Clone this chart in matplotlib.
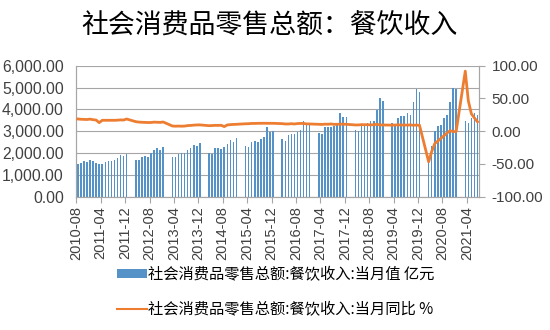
import numpy as np
import pandas as pd
import matplotlib
matplotlib.use('Agg')
import matplotlib.pyplot as plt
from matplotlib.patches import Patch
from matplotlib.lines import Line2D

plt.rcParams['font.family'] = ['Noto Sans CJK SC', 'DejaVu Sans']

# 月份: 2010-08 ~ 2021-07
months = pd.period_range('2010-08', '2021-07', freq='M').strftime('%Y-%m').tolist()

# 餐饮收入 当月值 (亿元), 1-2月无数据
v2010 = [1480, 1560, 1650, 1600, 1680]
v2011 = [1630, 1530, 1500, 1500, 1600, 1650, 1620, 1680, 1790, 1910, 1880, 1950]
v2012 = [None, None, 1690, 1660, 1840, 1850, 1840, 1990, 2140, 2230, 2120, 2260]
v2013 = [None, None, 1830, 1800, 1960, 1990, 1990, 2140, 2220, 2380, 2300, 2450]
v2014 = [None, None, 1990, 1960, 2210, 2220, 2180, 2290, 2410, 2600, 2520, 2680]
v2015 = [None, None, 2330, 2290, 2500, 2540, 2500, 2650, 2750, 3180, 2980, 2990]
v2016 = [None, None, 2630, 2570, 2830, 2870, 2860, 2980, 3050, 3470, 3330, 3330]
v2017 = [None, None, 2930, 2870, 3180, 3210, 3180, 3240, 3330, 3820, 3640, 3670]
v2018 = [None, None, 3060, 3010, 3320, 3320, 3360, 3480, 3450, 3970, 4510, 4400]
v2019 = [None, None, 3360, 3300, 3590, 3700, 3680, 3820, 3750, 4350, 4930, 4780]
v2020 = [None, None, 1830, 2310, 3010, 3240, 3260, 3590, 3740, 4350, 4960, 4920]
v2021 = [None, None, 3470, 3360, 3590, 3820, 3740]

# 餐饮收入 当月同比 (%)
y2010 = [18.6, 18.2, 18.0, 17.8, 18.4]
y2011 = [17.5, 17.0, 13.0, 16.6, 16.6, 16.6, 16.6, 16.6, 16.8, 17.2, 17.0, 18.6]
y2012 = [None, None, 14.5, 13.9, 13.6, 13.4, 13.2, 13.3, 13.8, 13.6, 13.4, 14.0]
y2013 = [None, None, 7.9, 7.6, 7.8, 7.6, 7.8, 8.5, 8.8, 9.2, 9.5, 9.6]
y2014 = [None, None, 8.4, 8.6, 8.9, 8.8, 9.0, 7.0, 9.5, 10.0, 10.3, 10.5]
y2015 = [None, None, 11.3, 11.4, 11.8, 11.8, 12.0, 12.0, 12.1, 12.0, 12.0, 12.0]
y2016 = [None, None, 11.5, 11.0, 11.0, 11.4, 11.0, 11.6, 11.8, 11.8, 11.1, 11.0]
y2017 = [None, None, 10.5, 10.3, 10.7, 10.6, 11.0, 10.4, 10.5, 10.8, 10.6, 10.5]
y2018 = [None, None, 9.5, 9.5, 10.0, 9.8, 9.9, 9.6, 9.8, 10.5, 9.5, 9.5]
y2019 = [None, None, 9.2, 9.4, 9.7, 9.3, 9.5, 9.2, 9.6, 9.0, 9.4, 9.0]
y2020 = [None, None, -46.8, -31.1, -18.9, -15.2, -11.0, -7.0, -2.9, 0.8, -0.6, -0.6]
y2021 = [None, None, 91.6, 46.4, 26.6, 20.2, 14.3]

values = np.array(v2010 + v2011 + v2012 + v2013 + v2014 + v2015 + v2016
                  + v2017 + v2018 + v2019 + v2020 + v2021, dtype=float)
yoy = np.array(y2010 + y2011 + y2012 + y2013 + y2014 + y2015 + y2016
               + y2017 + y2018 + y2019 + y2020 + y2021, dtype=float)
x = np.arange(len(months))

fig = plt.figure(figsize=(5.5, 3.3), dpi=100)
ax = fig.add_axes([0.1387, 0.404, 0.7322, 0.397])
ax2 = ax.twinx()

grid_c = '#a6a6a6'
bar_c = '#5592c8'
m = ~np.isnan(values)
ax.bar(x[m], values[m], width=0.5, color=bar_c, zorder=2)
ax.set_ylim(0, 6000)
ax.set_yticks(np.arange(0, 6001, 1000))
ax.set_yticklabels([f'{v:,.2f}' for v in np.arange(0, 6001, 1000)])
ax.yaxis.grid(True, color=grid_c, lw=0.8, zorder=0)
ax.set_axisbelow(True)

m2 = ~np.isnan(yoy)
ax2.plot(x[m2], yoy[m2], color='#ED7D31', lw=2, zorder=3)
ax2.set_ylim(-100, 100)
ax2.set_yticks(np.arange(-100, 101, 50))
ax2.set_yticklabels([f'{v:.2f}' for v in np.arange(-100, 101, 50)])

ax.set_xlim(-0.5, len(months) - 0.5)
ticks = x[::8]
ax.set_xticks(ticks - 0.5)
ax.set_xticklabels([months[i] for i in ticks], rotation=90)

for a in (ax, ax2):
    for s in a.spines.values():
        s.set_color(grid_c)
    a.spines['top'].set_visible(False)
    a.tick_params(labelsize=11.3, colors='#404040', length=4, width=0.8,
                  labelfontfamily='Liberation Sans')
    a.tick_params(axis='both', color=grid_c)
ax.tick_params(axis='y', length=0, pad=9)
ax2.tick_params(axis='y', labelsize=11, pad=5)
ax.tick_params(axis='x', labelsize=10.5, pad=3)

fig.text(0.49, 0.92, '社会消费品零售总额：餐饮收入', fontsize=19.4, ha='center', va='center')

handles = [Patch(facecolor=bar_c), Line2D([], [], color='#ED7D31', lw=1.5)]
labels = ['社会消费品零售总额:餐饮收入:当月值 亿元', '社会消费品零售总额:餐饮收入:当月同比 %']
fig.legend(handles, labels, loc='upper left', bbox_to_anchor=(117 / 550, 1 - 266 / 330),
           frameon=False, fontsize=11, handlelength=1.95, handleheight=0.5,
           handletextpad=0.1, labelspacing=1.2, borderpad=0, borderaxespad=0)

fig.savefig('out.png', dpi=100)
